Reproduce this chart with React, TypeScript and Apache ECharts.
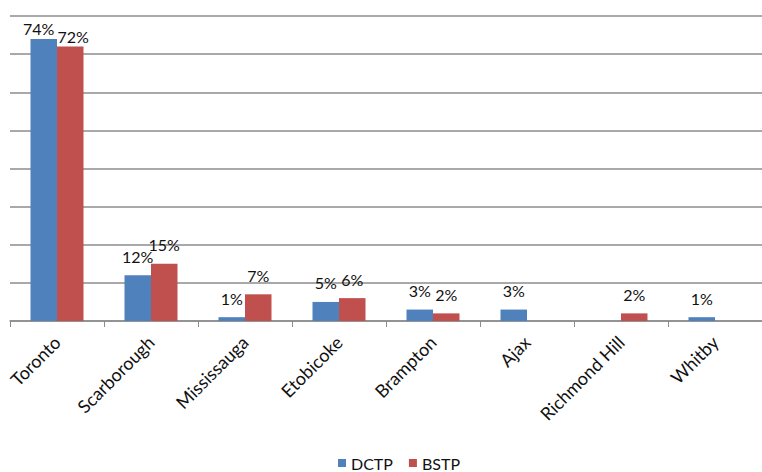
import React, { useEffect, useRef } from "react";
import * as echarts from "echarts";

const categories = ["Toronto", "Scarborough", "Mississauga", "Etobicoke", "Brampton", "Ajax", "Richmond Hill", "Whitby"];
const dctp = [74, 12, 1, 5, 3, 3, null, 1];
const bstp = [72, 15, 7, 6, 2, null, 2, null];
const seriesNames = ["DCTP", "BSTP"];

const FONT = "Lato, 'Open Sans', sans-serif";

export default function App() {
  const ref = useRef<HTMLDivElement>(null);
  useEffect(() => {
    document.body.style.margin = "0";
    const chart = echarts.init(ref.current!, null, { renderer: "svg" });
    const label = {
      show: true,
      position: "top",
      distance: 11,
      formatter: "{c}%",
      fontFamily: FONT,
      fontSize: 16,
      color: "#111",
    };
    // nudge labels of the tallest pair so they don't collide
    const withNudge = (arr: (number | null)[], dx: number) =>
      arr.map((v, i) =>
        i === 0 ? { value: v, label: { offset: [dx, 9] } } : v
      );
    chart.setOption({
      animation: false,
      backgroundColor: "#ffffff",
      grid: { left: 10, top: 16, width: 762, height: 305 },
      legend: {
        top: 450,
        left: 333,
        icon: "rect",
        itemWidth: 8,
        itemHeight: 8,
        itemGap: 16,
        textStyle: { fontFamily: FONT, fontSize: 16, color: "#111" },
        data: seriesNames,
      },
      xAxis: {
        type: "category",
        data: categories,
        axisLine: { lineStyle: { color: "#8c8c8c", width: 1.5 } },
        axisTick: { show: true, length: 6, lineStyle: { color: "#8c8c8c" } },
        axisLabel: {
          interval: 0,
          rotate: 45,
          margin: 18,
          fontFamily: FONT,
          fontSize: 18,
          color: "#111",
        },
      },
      yAxis: {
        type: "value",
        min: 0,
        max: 80,
        interval: 10,
        axisLabel: { show: false },
        axisLine: { show: false },
        axisTick: { show: false },
        splitLine: { lineStyle: { color: "#8c8c8c", width: 1.5 } },
      },
      series: [
        {
          name: seriesNames[0],
          type: "bar",
          data: withNudge(dctp, -5),
          barWidth: 26.5,
          barGap: "0%",
          itemStyle: { color: "#4F81BD" },
          label,
        },
        {
          name: seriesNames[1],
          type: "bar",
          data: withNudge(bstp, 3),
          barWidth: 26.5,
          barGap: "0%",
          itemStyle: { color: "#C0504D" },
          label,
        },
      ],
    });
    return () => chart.dispose();
  }, []);
  return <div ref={ref} style={{ width: 762, height: 472 }} />;
}
